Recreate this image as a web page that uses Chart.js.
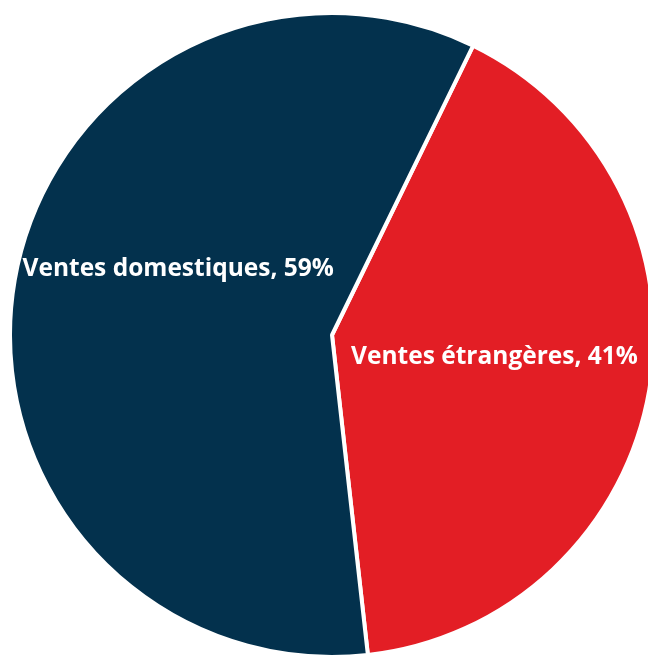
<!DOCTYPE html>
<html>
<head>
<meta charset="utf-8">
<script src="https://cdn.jsdelivr.net/npm/chart.js@4.4.1/dist/chart.umd.min.js"></script>
<style>
  html, body { margin: 0; padding: 0; background: #fff; overflow: hidden; }
  #wrap { position: absolute; left: 8px; top: 11px; width: 648px; height: 648px; }
</style>
</head>
<body>
<div id="wrap"><canvas id="camembert"></canvas></div>
<script>
const categories = ["Ventes étrangères", "Ventes domestiques"];
const values = [41, 59];
const colors = ["#E31E25", "#03314D"];
// nudge of each label from the slice middle (fractions of radius)
const labelShift = [[0.012, -0.016], [0.015, -0.12]];

const pieLabels = {
  id: "pieLabels",
  afterDatasetsDraw(chart) {
    const ctx = chart.ctx;
    const meta = chart.getDatasetMeta(0);
    ctx.save();
    ctx.font = "bold 24.5px 'Open Sans'";
    ctx.fillStyle = "#ffffff";
    ctx.textAlign = "center";
    ctx.textBaseline = "middle";
    meta.data.forEach(function (arc, i) {
      const p = arc.getProps(["x", "y", "startAngle", "endAngle", "outerRadius"], true);
      const mid = (p.startAngle + p.endAngle) / 2;
      const r = p.outerRadius * 0.5;
      const x = p.x + Math.cos(mid) * r + labelShift[i][0] * p.outerRadius;
      const y = p.y + Math.sin(mid) * r + labelShift[i][1] * p.outerRadius;
      ctx.fillText(categories[i] + ", " + values[i] + "%", x, y);
    });
    ctx.restore();
  }
};

new Chart(document.getElementById("camembert"), {
  type: "pie",
  data: {
    labels: categories,
    datasets: [{
      data: values,
      backgroundColor: colors,
      borderColor: "#ffffff",
      borderWidth: 4
    }]
  },
  options: {
    responsive: true,
    maintainAspectRatio: false,
    animation: false,
    rotation: 26,
    layout: { padding: 0 },
    plugins: {
      legend: { display: false },
      tooltip: { enabled: false }
    }
  },
  plugins: [pieLabels]
});
</script>
</body>
</html>
